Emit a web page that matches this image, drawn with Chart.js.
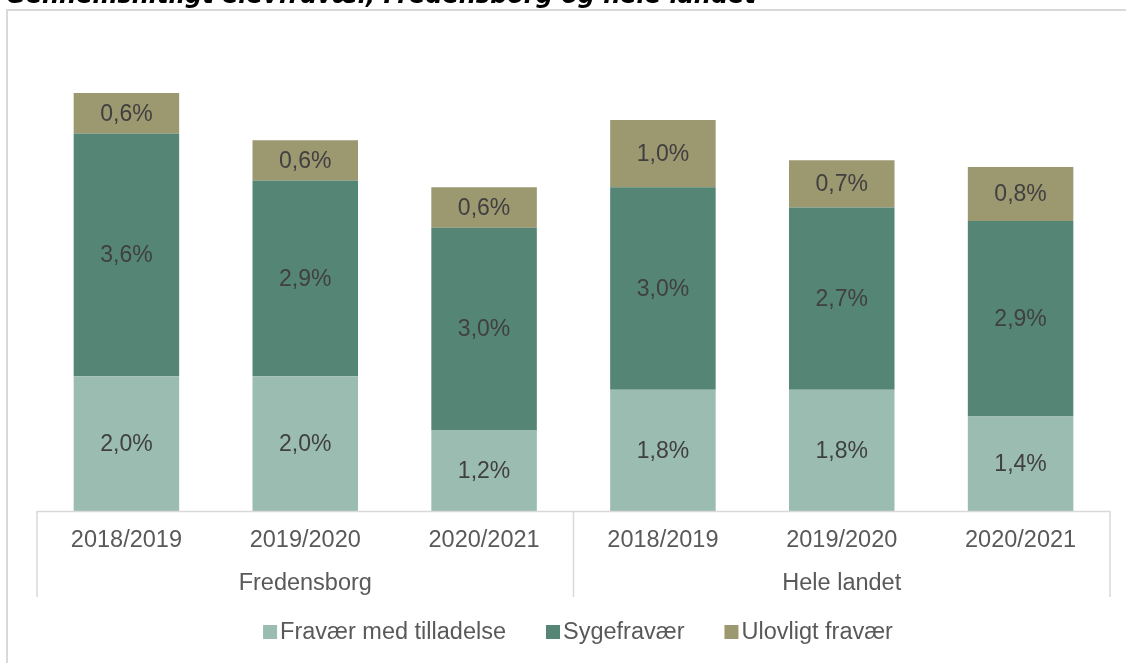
<!DOCTYPE html>
<html>
<head>
<meta charset="utf-8">
<script src="https://cdn.jsdelivr.net/npm/chart.js@4.4.0/dist/chart.umd.min.js"></script>
<style>
  html, body { margin: 0; padding: 0; background: #fff; }
  #wrap { width: 1126px; height: 663px; position: relative; }
</style>
</head>
<body>
<div id="wrap"><canvas id="grafico"></canvas></div>
<script>
// dati del grafico
var titolo = 'Gennemsnitligt elevfravær, Fredensborg og hele landet';
var anni = ['2018/2019', '2019/2020', '2020/2021', '2018/2019', '2019/2020', '2020/2021'];
var gruppi = ['Fredensborg', 'Hele landet'];
var nomiSerie = ['Fravær med tilladelse', 'Sygefravær', 'Ulovligt fravær'];
var medTilladelse = [2.0, 2.0, 1.2, 1.8, 1.8, 1.4];
var sygefravaer = [3.6, 2.9, 3.0, 3.0, 2.7, 2.9];
var ulovligt = [0.6, 0.6, 0.6, 1.0, 0.7, 0.8];
var colori = ['#9bbcb0', '#558575', '#9c9870'];

var fontBase = "'Liberation Sans', Arial, sans-serif";
var grigioLinee = '#d9d9d9';

function formatta(v) {
  return v.toFixed(1).replace('.', ',') + '%';
}

// plugin per titolo, cornice, etichette asse, valori e legenda
var decorazioni = {
  id: 'decorazioni',
  afterDraw: function(chart) {
    var ctx = chart.ctx;
    var area = chart.chartArea;
    var xs = chart.scales.x;
    ctx.save();

    // titolo (tagliato in alto come nell'originale)
    ctx.fillStyle = '#000';
    ctx.font = "italic bold 24px 'DejaVu Sans', sans-serif";
    ctx.textAlign = 'left';
    ctx.textBaseline = 'alphabetic';
    ctx.fillText(titolo, 6, 3);

    // cornice esterna
    ctx.strokeStyle = grigioLinee;
    ctx.lineWidth = 2;
    ctx.beginPath();
    ctx.moveTo(7, 663);
    ctx.lineTo(7, 10);
    ctx.lineTo(1126, 10);
    ctx.stroke();

    // linee asse categorie
    var fondo = area.bottom + 86;
    var meta = (xs.getPixelForValue(2) + xs.getPixelForValue(3)) / 2;
    ctx.lineWidth = 1.5;
    ctx.beginPath();
    ctx.moveTo(area.left, area.bottom + 0.5);
    ctx.lineTo(area.right, area.bottom + 0.5);
    [area.left, meta, area.right].forEach(function(x) {
      ctx.moveTo(x, area.bottom);
      ctx.lineTo(x, fondo);
    });
    ctx.stroke();

    // etichette anni e gruppi
    ctx.fillStyle = '#595959';
    ctx.font = '23.5px ' + fontBase;
    ctx.textAlign = 'center';
    ctx.textBaseline = 'middle';
    for (var i = 0; i < anni.length; i++) {
      ctx.fillText(anni[i], xs.getPixelForValue(i), area.bottom + 30);
    }
    ctx.fillText(gruppi[0], xs.getPixelForValue(1), area.bottom + 73);
    ctx.fillText(gruppi[1], xs.getPixelForValue(4), area.bottom + 73);

    // valori dentro le barre
    ctx.fillStyle = '#404040';
    ctx.font = '23px ' + fontBase;
    chart.data.datasets.forEach(function(ds, d) {
      var m = chart.getDatasetMeta(d);
      m.data.forEach(function(bar, j) {
        ctx.fillText(formatta(ds.data[j]), bar.x, (bar.y + bar.base) / 2 + 1);
      });
    });

    // legenda
    ctx.font = '23.5px ' + fontBase;
    var box = 14, gapTesto = 3, gapVoci = 40;
    var larghezze = nomiSerie.map(function(n) { return ctx.measureText(n).width; });
    var totale = 0;
    larghezze.forEach(function(w) { totale += box + gapTesto + w; });
    totale += gapVoci * (nomiSerie.length - 1);
    var x = 578 - totale / 2;
    var yLeg = 632;
    ctx.textAlign = 'left';
    for (var k = 0; k < nomiSerie.length; k++) {
      ctx.fillStyle = colori[k];
      ctx.fillRect(x, yLeg - box / 2, box, box);
      ctx.fillStyle = '#595959';
      ctx.fillText(nomiSerie[k], x + box + gapTesto, yLeg + 1);
      x += box + gapTesto + larghezze[k] + gapVoci;
    }
    ctx.restore();
  }
};

var ctx = document.getElementById('grafico');
var grafico = new Chart(ctx, {
  type: 'bar',
  data: {
    labels: anni,
    datasets: [
      { label: nomiSerie[0], data: medTilladelse, backgroundColor: colori[0] },
      { label: nomiSerie[1], data: sygefravaer, backgroundColor: colori[1] },
      { label: nomiSerie[2], data: ulovligt, backgroundColor: colori[2] }
    ]
  },
  options: {
    responsive: true,
    maintainAspectRatio: false,
    animation: false,
    layout: { padding: { left: 37, right: 16, top: 39, bottom: 0 } },
    datasets: {
      bar: { categoryPercentage: 1, barPercentage: 0.59, borderWidth: 0 }
    },
    plugins: {
      legend: { display: false },
      tooltip: { enabled: false }
    },
    scales: {
      x: {
        stacked: true,
        grid: { display: false, drawTicks: false },
        border: { display: false },
        ticks: { display: false },
        afterFit: function(scale) { scale.height = 152; }
      },
      y: {
        stacked: true,
        display: false,
        min: 0,
        max: 7
      }
    }
  },
  plugins: [decorazioni]
});
</script>
</body>
</html>
